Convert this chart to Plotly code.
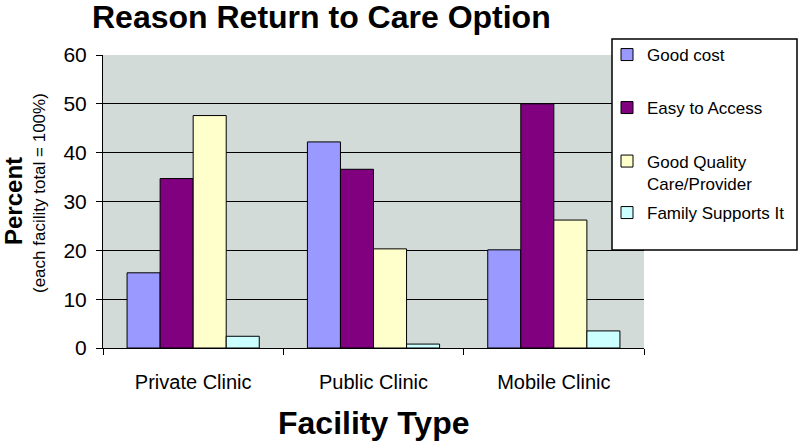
import plotly.graph_objects as go

categories = ["Private Clinic", "Public Clinic", "Mobile Clinic"]
series_names = ["Good cost", "Easy to Access", "Good Quality<br>Care/Provider", "Family Supports It"]
good_cost = [15.4, 42.2, 20.1]
easy_access = [34.7, 36.6, 50.0]
good_quality = [47.6, 20.3, 26.2]
family_supports = [2.4, 0.8, 3.5]
y_ticks = [0, 10, 20, 30, 40, 50, 60]

colors = ["#9999FF", "#800080", "#FFFFCC", "#CCFFFF"]
values = [good_cost, easy_access, good_quality, family_supports]
legend_ids = ["legend", "legend2", "legend3", "legend4"]

FONT = "Liberation Sans, Arial, sans-serif"

fig = go.Figure()
for name, vals, col, lg in zip(series_names, values, colors, legend_ids):
    fig.add_trace(go.Bar(
        x=categories, y=vals, name=name,
        marker=dict(color=col, line=dict(color="black", width=1)),
        legend=lg,
    ))

# plot area: x 103..644 px, y 55..348 px
def py(px):
    return (348 - px) / 293.0

def pxx(px):
    return (px - 103) / 541.0

legend_common = dict(
    bgcolor="rgba(0,0,0,0)", borderwidth=0,
    font=dict(family=FONT, size=17, color="black"),
    xanchor="left", yanchor="middle", x=pxx(607),
    itemwidth=30, tracegroupgap=0,
)
legend_y = [55, 108, 172.5, 213]

layout_legends = {}
for lg, ly in zip(legend_ids, legend_y):
    d = dict(legend_common)
    d["y"] = py(ly)
    if lg == "legend3":
        d["valign"] = "top"
    layout_legends[lg] = d

fig.update_layout(
    width=800, height=442,
    margin=dict(l=103, r=156, t=55, b=94, autoexpand=False),
    paper_bgcolor="white",
    plot_bgcolor="#d3dbd9",
    barmode="group",
    bargap=0.267,
    bargroupgap=0,
    showlegend=True,
    font=dict(family=FONT, color="black"),
    title=dict(
        text="<b>Reason Return to Care Option</b>",
        font=dict(family=FONT, size=32, color="black"),
        xref="container", x=92 / 800, xanchor="left",
        yref="container", y=1 - 17 / 442, yanchor="middle",
    ),
    xaxis=dict(
        showline=True, linecolor="black", linewidth=1,
        ticks="outside", ticklen=6, tickcolor="black",
        tickson="boundaries",
        tickfont=dict(family=FONT, size=20, color="black"),
        ticklabelstandoff=16,
        showgrid=False,
    ),
    yaxis=dict(
        range=[0, 60], tickvals=y_ticks,
        showline=True, linecolor="black", linewidth=1,
        ticks="outside", ticklen=6, tickcolor="black",
        tickfont=dict(family=FONT, size=21, color="black"),
        ticklabelstandoff=5,
        showgrid=True, gridcolor="black", gridwidth=1,
        zeroline=False,
    ),
    shapes=[dict(
        type="rect", xref="paper", yref="paper", layer="above",
        x0=pxx(612), x1=pxx(797), y0=py(250), y1=py(39),
        fillcolor="white", line=dict(color="black", width=1.5),
    )],
    annotations=[
        dict(text="<b>Facility Type</b>", xref="paper", yref="paper",
             x=0.5, y=py(423), xanchor="center", yanchor="middle",
             showarrow=False, font=dict(family=FONT, size=32, color="black")),
        dict(text="<b>Percent</b>", xref="paper", yref="paper",
             x=pxx(13), y=py(201), xanchor="center", yanchor="middle",
             textangle=-90, showarrow=False,
             font=dict(family=FONT, size=24, color="black")),
        dict(text="(each facility total = 100%)", xref="paper", yref="paper",
             x=pxx(39), y=py(193), xanchor="center", yanchor="middle",
             textangle=-90, showarrow=False,
             font=dict(family=FONT, size=17, color="black")),
    ],
    **layout_legends,
)

fig.write_html(
    "out.html",
    config={"displayModeBar": False},
    post_script="document.body.style.margin='0';document.body.style.overflow='hidden';",
)
